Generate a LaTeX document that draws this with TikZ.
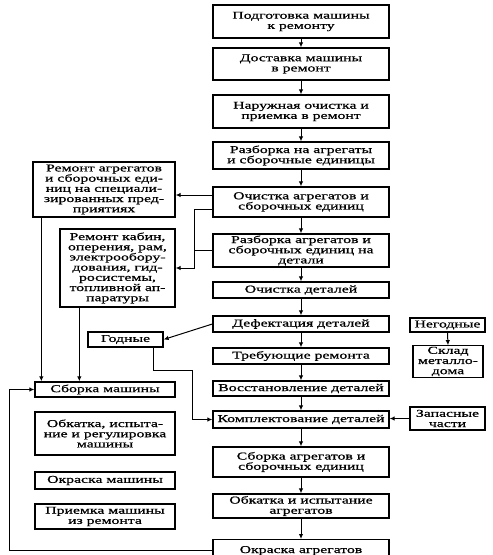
\documentclass[tikz,border=0pt]{standalone}
\usepackage{fontspec}
\setmainfont{Liberation Serif}[FakeStretch=1.5,FakeBold=0.8]
\usetikzlibrary{arrows.meta}
\begin{document}
\begin{tikzpicture}[x=1pt,y=-1pt,
  box/.style={draw,line width=1.3pt,align=center,inner sep=1pt,
    font=\fontsize{10.5}{10.2}\selectfont},
  mainbox/.style={box,minimum width=176pt},
  conn/.style={line width=1pt},
  arr/.style={conn,-{Latex[length=5pt,width=4.5pt]}}]
\useasboundingbox (0,0) rectangle (493,555);
\clip (0,0) rectangle (493,555);
% main column
\node[mainbox,minimum height=33pt] (m1) at (301,21.5) {Подготовка машины\\к ремонту};
\node[mainbox,minimum height=32pt] (m2) at (301,64) {Доставка машины\\в ремонт};
\node[mainbox,minimum height=33pt] (m3) at (301,111.5) {Наружная очистка и\\приемка в ремонт};
\node[mainbox,minimum height=27pt] (m4) at (301,155.5) {Разборка на агрегаты\\и сборочные единицы};
\node[mainbox,minimum height=30pt] (m5) at (301,202) {Очистка агрегатов и\\сборочных единиц};
\node[mainbox,minimum height=33pt] (m6) at (301,250.5) {Разборка агрегатов и\\сборочных единиц на\\детали};
\node[mainbox,minimum height=16pt] (m7) at (301,290) {Очистка деталей};
\node[mainbox,minimum height=16pt] (m8) at (301,324) {Дефектация деталей};
\node[mainbox,minimum height=16pt] (m9) at (301,356) {Требующие ремонта};
\node[mainbox,minimum height=15pt] (m10) at (301,388.5) {Восстановление деталей};
\node[mainbox,minimum height=17pt] (m11) at (301,419.5) {Комплектование деталей};
\node[mainbox,minimum height=30pt] (m12) at (301,462) {Сборка агрегатов и\\сборочных единиц};
\node[mainbox,minimum height=24pt] (m13) at (301,506) {Обкатка и испытание\\агрегатов};
\node[mainbox,minimum height=30pt,anchor=north] (m14) at (301,539) {Окраска агрегатов\\\mbox{}};
% right column
\node[box,minimum width=75pt,minimum height=14pt] (neg) at (447.5,325) {Негодные};
\node[box,minimum width=70pt,minimum height=31pt] (skl) at (448,361.5) {Склад\\металло-\\дома};
\node[box,minimum width=75pt,minimum height=23pt] (zap) at (447.5,418.5) {Запасные\\части};
% left column
\node[box,minimum width=142pt,minimum height=55pt] (rag) at (104,189.5) {Ремонт агрегатов\\и сборочных еди-\\ниц на специали-\\зированных пред-\\приятиях};
\node[box,minimum width=115pt,minimum height=78pt] (rkab) at (117.5,268) {Ремонт кабин,\\оперения, рам,\\электрообору-\\дования, гид-\\росистемы,\\топливной ап-\\паратуры};
\node[box,minimum width=75pt,minimum height=15pt] (god) at (125.5,339.5) {Годные};
\node[box,minimum width=140pt,minimum height=15pt] (sbm) at (105,389.5) {Сборка машины};
\node[box,minimum width=140pt,minimum height=43pt] (obk) at (105,433.5) {Обкатка, испыта-\\ние и регулировка\\машины};
\node[box,minimum width=140pt,minimum height=17pt] (okr) at (105,480.5) {Окраска машины};
\node[box,minimum width=140pt,minimum height=25pt] (pri) at (105,516.5) {Приемка машины\\из ремонта};
% main flow
\foreach \a/\b in {m1/m2,m2/m3,m3/m4,m4/m5,m5/m6,m6/m7,m7/m8,m8/m9,m9/m10,m10/m11,m11/m12,m12/m13,m13/m14}
  \draw[arr] (\a.south) -- (\b.north);
% side connectors
\draw[arr] ([yshift=7pt]m5.west) -- ([yshift=7pt]m5.west -| rag.east);
\draw[arr] ([yshift=-7pt]m5.west) -- ++(-18pt,0) coordinate (j1) |- (rkab.east);
\draw[conn] (m6.west) -- (m6.west -| j1);
\draw[arr] ([xshift=9pt]rag.south west) -- ([xshift=9pt]rag.south west |- sbm.north);
\draw[arr] ([xshift=20pt]rkab.south west) -- ([xshift=20pt]rkab.south west |- sbm.north);
\draw[arr] (m8.west) -- (god.east);
\draw[arr] ([xshift=-10pt]god.south east) -- ++(0,-23pt) -| ([xshift=-20pt]m11.west) -- (m11.west);
\draw[arr] (zap.west) -- (zap.west -| m11.east);
\draw[arr] (neg.south) -- (skl.north);
\draw[arr] ([yshift=4pt]m14.west) -- ++(-203pt,0) |- (sbm.west);
\end{tikzpicture}
\end{document}
